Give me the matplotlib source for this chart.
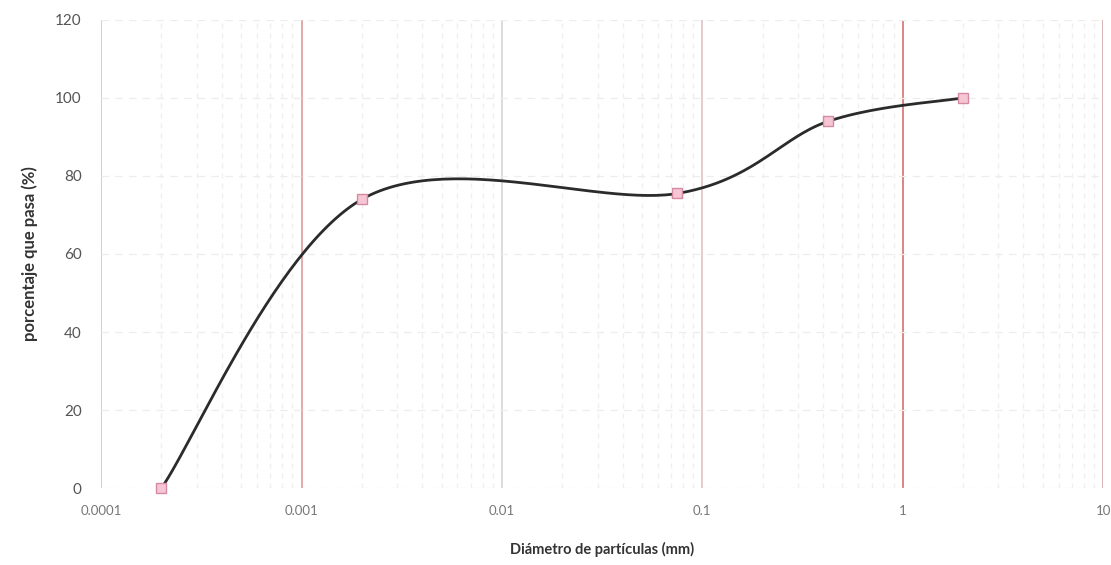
import numpy as np
import matplotlib
matplotlib.use("Agg")
import matplotlib.pyplot as plt
from matplotlib.ticker import FixedLocator, NullFormatter

# Data
diametro_mm = [0.0002, 0.002, 0.075, 0.425, 2.0]
porcentaje_pasa = [0.0, 74.0, 75.5, 94.0, 100.0]
x_ticks = [0.0001, 0.001, 0.01, 0.1, 1, 10]
x_tick_labels = ["0.0001", "0.001", "0.01", "0.1", "1", "10"]
y_ticks = [0, 20, 40, 60, 80, 100, 120]
major_grid_colors = ['#e3c9b3', '#e3a9a9', '#dcdcdc', '#e6cccc', '#d98585', '#d9b3b3']

plt.rcParams['font.family'] = ['Lato', 'DejaVu Sans']

fig = plt.figure(figsize=(11.11, 5.65), dpi=100)
ax = fig.add_axes([0.091, 0.136, 0.902, 0.829])
ax.set_xscale('log')
ax.set_xlim(0.0001, 10)
ax.set_ylim(0, 120)

# Smooth curve (Bezier smoothing in log-x / linear-y space, like Excel smoothing)
lx = np.log10(diametro_mm)
ly = np.array(porcentaje_pasa)
P = np.column_stack([lx, ly])
sx = 200.0; sy = 3.9
Q = P * np.array([sx, sy])
n = len(Q)
pts = []
for i in range(n - 1):
    p0 = Q[i - 1] if i > 0 else Q[i]
    p1 = Q[i]
    p2 = Q[i + 1]
    p3 = Q[i + 2] if i + 2 < n else Q[i + 1]
    c1 = p1 + (p2 - p0) / 6.0
    c2 = p2 - (p3 - p1) / 6.0
    t = np.linspace(0, 1, 60)[:, None]
    seg = ((1 - t) ** 3) * p1 + 3 * ((1 - t) ** 2) * t * c1 + 3 * (1 - t) * t ** 2 * c2 + t ** 3 * p2
    pts.append(seg)
curve = np.vstack(pts) / np.array([sx, sy])
ax.plot(10 ** curve[:, 0], curve[:, 1], color='#2b2b2b', lw=2.0, zorder=3)
ax.plot(diametro_mm, porcentaje_pasa, linestyle='none', marker='s', markersize=7,
        markerfacecolor='#f6c6d4', markeredgecolor='#d58aa3', markeredgewidth=1.0,
        zorder=4, clip_on=False)

# Grid
ax.xaxis.set_major_locator(FixedLocator(x_ticks))
ax.set_xticklabels(x_tick_labels)
ax.xaxis.set_minor_locator(FixedLocator([m * d for d in [0.0001, 0.001, 0.01, 0.1, 1] for m in range(2, 10)]))
ax.xaxis.set_minor_formatter(NullFormatter())
ax.set_yticks(y_ticks)
for xv, col in zip(x_ticks, major_grid_colors):
    ax.axvline(xv, color=col, lw=1.4, zorder=1)
ax.grid(which='minor', axis='x', color='#efefef', lw=0.9, linestyle=(0, (4, 4)), zorder=1)
ax.grid(which='major', axis='y', color='#ededed', lw=0.9, linestyle=(0, (6, 5)), zorder=1)

for s in ax.spines.values():
    s.set_visible(False)
ax.tick_params(which='both', length=0)
ax.tick_params(axis='y', labelsize=11, labelcolor='#555555', pad=14)
ax.tick_params(axis='x', labelsize=9.5, labelcolor='#777777', pad=12)

ax.set_xlabel('Diámetro de partículas (mm)', fontsize=10.5, fontweight='bold', color='#333333', labelpad=18)
ax.set_ylabel('porcentaje que pasa (%)', fontsize=12, fontweight='bold', color='#333333', labelpad=12)

fig.savefig('out.png', dpi=100, facecolor='white')
